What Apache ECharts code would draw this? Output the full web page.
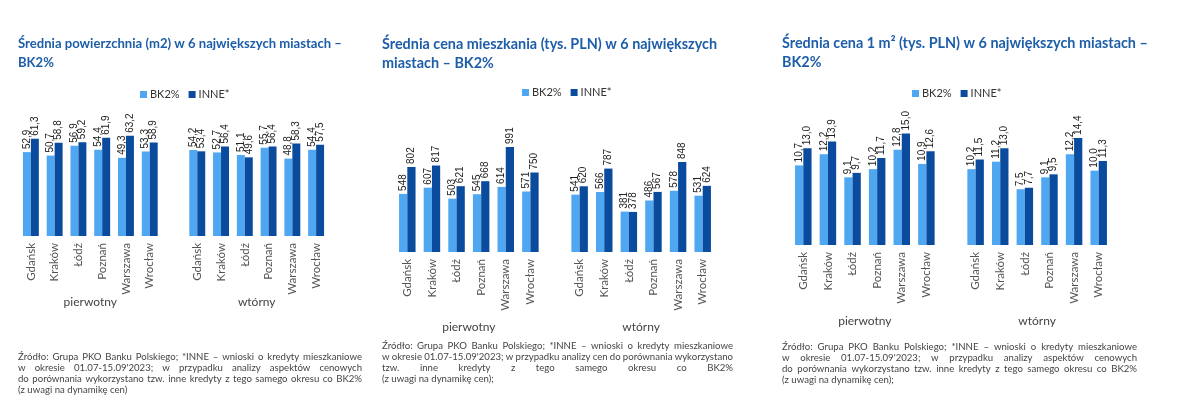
<!DOCTYPE html>
<html>
<head>
<meta charset="utf-8">
<script src="https://cdn.jsdelivr.net/npm/echarts@6/dist/echarts.min.js"></script>
<style>
html,body{margin:0;padding:0;background:#fff;}
#c{width:1200px;height:418px;}
</style>
</head>
<body>
<div id="c"></div>
<script>
// ---------- DATA ----------
const cities = ['Gdańsk','Kraków','Łódź','Poznań','Warszawa','Wrocław'];
const groupNames = ['pierwotny','wtórny'];
const seriesNames = ['BK2%','INNE*'];
const titles = [
  'Średnia powierzchnia (m2) w 6 największych miastach –\nBK2%',
  'Średnia cena mieszkania (tys. PLN) w 6 największych\nmiastach – BK2%',
  'Średnia cena 1 m² (tys. PLN) w 6 największych miastach –\nBK2%'
];
// Średnia powierzchnia (m2)
const areaBK2Prim  = [52.9, 50.7, 56.9, 54.4, 49.3, 53.3];
const areaInnePrim = [61.3, 58.8, 59.2, 61.9, 63.2, 58.9];
const areaBK2Sec   = [54.2, 52.7, 51.1, 55.7, 48.8, 54.4];
const areaInneSec  = [53.4, 56.4, 49.6, 56.4, 58.3, 57.5];
// Średnia cena mieszkania (tys. PLN)
const priceBK2Prim  = [548, 607, 503, 545, 614, 571];
const priceInnePrim = [802, 817, 621, 668, 991, 750];
const priceBK2Sec   = [541, 566, 381, 486, 578, 531];
const priceInneSec  = [620, 787, 378, 567, 848, 624];
// Średnia cena 1 m2 (tys. PLN)
const m2BK2Prim  = [10.7, 12.2, 9.1, 10.2, 12.8, 10.9];
const m2InnePrim = [13.0, 13.9, 9.7, 11.7, 15.0, 12.6];
const m2BK2Sec   = [10.2, 11.2, 7.5, 9.1, 12.2, 10.0];
const m2InneSec  = [11.5, 13.0, 7.7, 9.5, 14.4, 11.3];

const sources = [
  ['Źródło: Grupa PKO Banku Polskiego; *INNE – wnioski o kredyty mieszkaniowe',
   'w okresie 01.07-15.09\'2023; w przypadku analizy aspektów cenowych',
   'do porównania wykorzystano tzw. inne kredyty z tego samego okresu co BK2%',
   '(z uwagi na dynamikę cen)'],
  ['Źródło: Grupa PKO Banku Polskiego; *INNE – wnioski o kredyty mieszkaniowe',
   'w okresie 01.07-15.09\'2023; w przypadku analizy cen do porównania wykorzystano',
   'tzw. inne kredyty z tego samego okresu co BK2%',
   '(z uwagi na dynamikę cen);'],
  ['Źródło: Grupa PKO Banku Polskiego; *INNE – wnioski o kredyty mieszkaniowe',
   'w okresie 01.07-15.09\'2023; w przypadku analizy aspektów cenowych',
   'do porównania wykorzystano tzw. inne kredyty z tego samego okresu co BK2%',
   '(z uwagi na dynamikę cen);']
];

// ---------- LAYOUT / STYLE ----------
const C_LIGHT = '#4ea7f0';
const C_DARK = '#0b4b9d';
const C_TITLE = '#1d5ea9';
const FONT = 'Lato, "Noto Sans", sans-serif';
const LABEL_FONT = '"Liberation Sans Narrow", "Liberation Sans", sans-serif';

const panels = [
  {grid:{left:19, width:309, top:125, height:111}, max:70, dec:1, titleSize:13.1,
   bk:[areaBK2Prim, areaBK2Sec], inne:[areaInnePrim, areaInneSec],
   titlePos:[18,34], legendPos:[140,89], srcPos:[18,352], srcW:344, groupY:302},
  {grid:{left:395, width:320, top:146, height:106}, max:1000, dec:0, titleSize:14.4,
   bk:[priceBK2Prim, priceBK2Sec], inne:[priceInnePrim, priceInneSec],
   titlePos:[382,35], legendPos:[522,87], srcPos:[382,341], srcW:351, groupY:327},
  {grid:{left:791, width:320, top:126, height:119}, max:16, dec:1, titleSize:14.4,
   bk:[m2BK2Prim, m2BK2Sec], inne:[m2InnePrim, m2InneSec],
   titlePos:[782,34], legendPos:[912,88], srcPos:[782,342], srcW:355, groupY:321}
];

const catData = cities.concat([''], cities);
function join(a, b){ return a.concat([null], b); }
function fmt(dec){
  return function(p){
    if (p.value == null) return '';
    return dec ? p.value.toFixed(dec).replace('.', ',') : String(p.value);
  };
}

const option = {
  animation:false,
  backgroundColor:'#fff',
  title:[], legend:[], grid:[], xAxis:[], yAxis:[], series:[], graphic:[]
};

panels.forEach(function(p, i){
  option.title.push({
    text:titles[i], left:p.titlePos[0], top:p.titlePos[1], padding:0,
    textStyle:{color:C_TITLE, fontFamily:FONT, fontWeight:'bold', fontSize:p.titleSize, lineHeight:19}
  });
  option.legend.push({
    left:p.legendPos[0], top:p.legendPos[1], padding:0,
    itemWidth:7, itemHeight:7, itemGap:9, icon:'rect',
    data:seriesNames,
    textStyle:{color:'#333', fontFamily:FONT, fontSize:11, padding:[0,0,0,-2]}
  });
  option.grid.push(Object.assign({containLabel:false}, p.grid));
  option.xAxis.push({
    type:'category', gridIndex:i, data:catData,
    axisLine:{show:false}, axisTick:{show:false},
    axisLabel:{rotate:90, interval:0, margin:7, color:'#555', fontFamily:FONT, fontSize:11.5}
  });
  option.yAxis.push({
    type:'value', gridIndex:i, min:0, max:p.max, show:false, splitLine:{show:false}
  });
  [[seriesNames[0], C_LIGHT, p.bk], [seriesNames[1], C_DARK, p.inne]].forEach(function(s){
    option.series.push({
      type:'bar', name:s[0], xAxisIndex:i, yAxisIndex:i,
      data:join(s[2][0], s[2][1]),
      itemStyle:{color:s[1]},
      barGap:'0%', barCategoryGap:'33%',
      label:{show:true, position:'top', rotate:90, align:'left', verticalAlign:'middle',
             distance:3, color:'#222', fontFamily:LABEL_FONT, fontSize:10, formatter:fmt(p.dec)}
    });
  });
});

// justified source text
const mc = document.createElement('canvas').getContext('2d');
const SRC_FONT_SIZE = 9.6;
mc.font = SRC_FONT_SIZE + 'px ' + FONT;
function justified(lines, x, y, width, lh, justifyLast){
  const out = [];
  lines.forEach(function(line, li){
    const yy = y + li * lh;
    const words = line.split(' ');
    const isLast = li === lines.length - 1;
    const plain = mc.measureText(line).width;
    if ((isLast && !justifyLast) || words.length < 2 || plain < width * 0.55) {
      out.push({type:'text', left:x, top:yy, style:{text:line, fill:'#444', font:SRC_FONT_SIZE + 'px ' + FONT}});
      return;
    }
    const ws = words.map(function(w){ return mc.measureText(w).width; });
    const total = ws.reduce(function(a,b){return a+b;}, 0);
    const gap = (width - total) / (words.length - 1);
    let cx = x;
    words.forEach(function(w, wi){
      out.push({type:'text', x:cx, y:yy, style:{text:w, fill:'#444', font:SRC_FONT_SIZE + 'px ' + FONT}});
      cx += ws[wi] + gap;
    });
  });
  return out;
}

const chart = echarts.init(document.getElementById('c'), null, {renderer:'canvas'});
chart.setOption(option);

// group labels and source notes
const gfx = [];
panels.forEach(function(p, i){
  const a0 = chart.convertToPixel({xAxisIndex:i}, 2);
  const a1 = chart.convertToPixel({xAxisIndex:i}, 3);
  const b0 = chart.convertToPixel({xAxisIndex:i}, 9);
  const b1 = chart.convertToPixel({xAxisIndex:i}, 10);
  [[ (a0+a1)/2, groupNames[0]], [(b0+b1)/2, groupNames[1]]].forEach(function(g){
    gfx.push({type:'text', x:g[0], y:p.groupY, style:{text:g[1], fill:'#444', font:'12px ' + FONT, textAlign:'center', textVerticalAlign:'middle'}});
  });
  justified(sources[i], p.srcPos[0], p.srcPos[1], p.srcW, 11, false).forEach(function(e){ gfx.push(e); });
});
chart.setOption({graphic:gfx});
</script>
</body>
</html>
